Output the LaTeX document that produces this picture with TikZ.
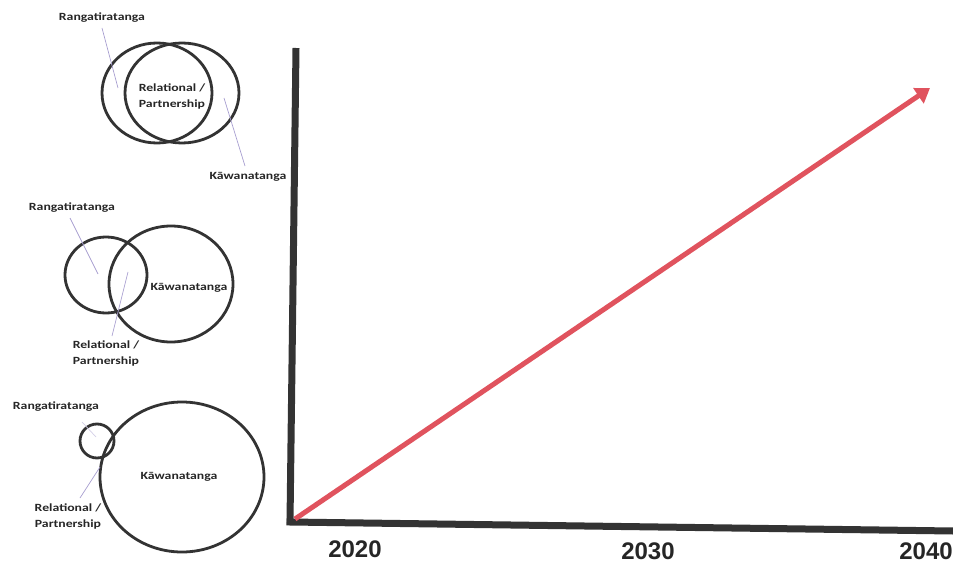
\documentclass[tikz,border=0pt]{standalone}
\usepackage{fontspec}
\setmainfont{Liberation Sans}
\newfontfamily\lblfont{Carlito}
\usetikzlibrary{arrows.meta,shapes.geometric}
\definecolor{axisgray}{HTML}{333333}
\definecolor{arrowred}{HTML}{E0535E}
\definecolor{leader}{HTML}{A79ED0}
\tikzset{
  ring/.style={draw=axisgray, line width=2.8pt, ellipse, inner sep=0pt},
  lbl/.style={font=\lblfont\bfseries\fontsize{11}{16}\selectfont, text=black!85, align=center, inner sep=0pt, xscale=1.25},
  lead/.style={draw=leader, line width=0.7pt},
  axisline/.style={draw=axisgray, line width=7pt},
  year/.style={font=\bfseries\fontsize{24}{26}\selectfont, text=black!85, inner sep=0pt}
}
\begin{document}
\begin{tikzpicture}[x=1pt,y=-1pt]
\useasboundingbox (0,0) rectangle (953,564);
% axes
\coordinate (top) at (296,48);
\coordinate (origin) at (290,522);
\coordinate (xend) at (953,531);
\draw[axisline, line cap=butt] (top) -- (origin);
\draw[axisline, line cap=rect] (origin) -- (xend);
% red arrow
\coordinate (astart) at (295,519);
\coordinate (aend) at (930,88);
\draw[draw=arrowred, line width=5pt, -{Triangle[length=14pt,width=18pt]}] (astart) -- (aend);
% years
\node[year] (y2020) at (355,549) {2020};
\node[year] (y2030) at (648,551) {2030};
\node[year] (y2040) at (926,551) {2040};

% group 1
\node[ring, minimum width=110pt, minimum height=100pt] (g1r) at (157,93) {};
\node[ring, minimum width=114pt, minimum height=100pt] (g1k) at (182,93) {};
\node[lbl] (g1rel) at (172,96) {Relational /\\Partnership};
\node[lbl] (g1rt) at (102,18) {Rangatiratanga};
\node[lbl] (g1kw) at (248,177) {Kāwanatanga};
\coordinate (g1rp) at (118,88);
\coordinate (g1kp) at (224,98);
\coordinate (g1rs) at (102,28);
\coordinate (g1ks) at (245,166);
\draw[lead] (g1rs) -- (g1rp);
\draw[lead] (g1kp) -- (g1ks);

% group 2
\node[ring, minimum width=82pt, minimum height=76pt] (g2r) at (106,275) {};
\node[ring, minimum width=124pt, minimum height=116pt] (g2k) at (171,284) {};
\node[lbl] (g2rt) at (72,208) {Rangatiratanga};
\node[lbl] (g2kw) at (189,288) {Kāwanatanga};
\node[lbl] (g2rel) at (106,353) {Relational /\\Partnership};
\coordinate (g2rs) at (70,218);
\coordinate (g2rp) at (98,274);
\coordinate (g2ls) at (112,336);
\coordinate (g2lp) at (128,272);
\draw[lead] (g2rs) -- (g2rp);
\draw[lead] (g2ls) -- (g2lp);

% group 3
\node[ring, circle, minimum size=34pt] (g3r) at (97,441) {};
\node[ring, minimum width=164pt, minimum height=150pt] (g3k) at (182,477) {};
\node[lbl] (g3rt) at (56,407) {Rangatiratanga};
\node[lbl] (g3kw) at (179,477) {Kāwanatanga};
\node[lbl] (g3rel) at (68,516) {Relational /\\Partnership};
\coordinate (g3rs) at (82,422);
\coordinate (g3rp) at (96,437);
\coordinate (g3ls) at (80,498);
\coordinate (g3lp) at (100,467);
\draw[lead, draw=leader!50] (g3rs) -- (g3rp);
\draw[lead] (g3ls) -- (g3lp);
\end{tikzpicture}
\end{document}
